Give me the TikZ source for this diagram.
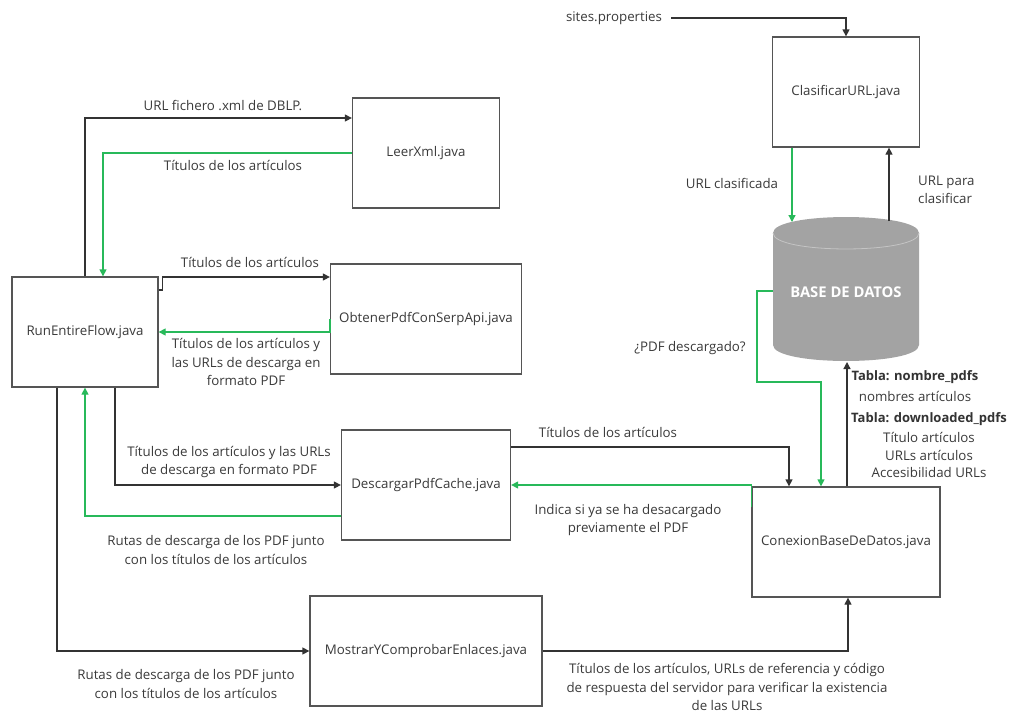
\documentclass[tikz,border=0pt]{standalone}
\usepackage{fontspec}
\setmainfont{Open Sans}
\usetikzlibrary{arrows.meta}
\definecolor{linegray}{HTML}{333333}
\definecolor{boxgray}{HTML}{555555}
\definecolor{flowgreen}{RGB}{40,185,90}
\definecolor{dbgray}{HTML}{A3A3A3}
\definecolor{dbrim}{HTML}{C4C4C4}
\definecolor{txtgray}{HTML}{3A3A3A}
\begin{document}
\begin{tikzpicture}[x=1pt,y=-1pt,
  font=\fontsize{13.3}{18.5}\selectfont,
  box/.style={draw=boxgray, line width=1.3pt, fill=white, minimum width=#1,
    minimum height=110pt, text=txtgray, inner sep=0pt},
  lbl/.style={text=txtgray, align=center, inner sep=0pt},
  tip/.style={-{Triangle[length=7pt,width=7pt]}},
  blk/.style={draw=linegray, line width=1.3pt, tip},
  grn/.style={draw=flowgreen, line width=1.3pt, tip, fill=none},
]
\useasboundingbox (0,0) rectangle (1012,715);
\fill[white] (0,0) rectangle (1012,715);

% program modules
\node[box=146pt] (run) at (85,332) {RunEntireFlow.java};
\node[box=147pt] (leer) at (426,153) {LeerXml.java};
\node[box=191pt] (obt) at (426,319) {ObtenerPdfConSerpApi.java};
\node[box=169pt] (desc) at (426,485) {DescargarPdfCache.java};
\node[box=232pt] (mostrar) at (426,651) {MostrarYComprobarEnlaces.java};
\node[box=147pt] (cls) at (846,92) {ClasificarURL.java};
\node[box=188pt] (con) at (846,542) {ConexionBaseDeDatos.java};

% database cylinder
\fill[dbgray] (773,233) -- (773,345)
  .. controls (773,366.3) and (919,366.3) .. (919,345) -- (919,233)
  .. controls (919,211.7) and (773,211.7) .. (773,233) -- cycle;
\draw[dbrim, line width=0.8pt] (773,233) .. controls (773,254.3) and (919,254.3) .. (919,233);
\node[text=white, font=\fontsize{14.8}{17}\selectfont\bfseries, inner sep=0pt] (db) at (846,292) {BASE DE DATOS};
\coordinate (dbtopA) at (792,222);
\coordinate (dbtopB) at (889,221);
\coordinate (dbleft) at (773,291);
\coordinate (dbbot) at (847,362);

% external input
\node[lbl] (sites) at (614,18) {sites.properties};

% connectors: left column
\draw[blk] (run.north) |- (leer.west |- 0,118);
\draw[grn] (leer.west) -| (run.north -| 103,0);
\draw[blk] (run.east |- 0,290) -- ++(4,0) |- (obt.west |- 0,277);
\draw[grn] (obt.west |- 0,319) -- (obt.west |- 0,332) -- (run.east |- 0,332);
\draw[blk] (run.south -| 115,0) |- (desc.west);
\draw[grn] (desc.west |- 0,516) -| (run.south -| 85,0);
\draw[blk] (run.south -| 57,0) |- (mostrar.west);

% connectors: database side
\draw[blk] (desc.east |- 0,447) -| (con.north -| 789,0);
\draw[grn] (con.west |- 0,507) -- (con.west |- 0,485) -- (desc.east);
\draw[blk] (mostrar.east) -| (con.south -| 848,0);
\draw[blk] (con.north -| 847,0) -- (dbbot);
\draw[grn] (dbleft) -| (757,382) -| (con.north -| 821,0);
\draw[grn] (cls.south -| 792,0) -- (dbtopA);
\draw[blk] (dbtopB) -- (cls.south -| 889,0);
\draw[blk] ([xshift=9pt]sites.east) -| (cls.north);

% connector labels
\node[lbl] (l1) at (223,106) {URL fichero .xml de DBLP.};
\node[lbl] (l2) at (233,165) {Títulos de los artículos};
\node[lbl] (l3) at (250,262) {Títulos de los artículos};
\node[lbl] (l4) at (246,362) {Títulos de los artículos y\\las URLs de descarga en\\formato PDF};
\node[lbl] (l5) at (229,462) {Títulos de los artículos y las URLs\\de descarga en formato PDF};
\node[lbl] (l6) at (216,550) {Rutas de descarga de los PDF junto\\con los títulos de los artículos};
\node[lbl] (l7) at (608,432) {Títulos de los artículos};
\node[lbl] (l8) at (628,520) {Indica si ya se ha desacargado\\previamente el PDF};
\node[lbl] (l9) at (186,684) {Rutas de descarga de los PDF junto\\con los títulos de los artículos};
\node[lbl] (l10) at (727,687) {Títulos de los artículos, URLs de referencia y código\\de respuesta del servidor para verificar la existencia\\de las URLs};
\node[lbl] (l11) at (732,183) {URL clasificada};
\node[lbl, align=left, anchor=west] (l12) at (918,190) {URL para\\clasificar};
\node[lbl] (l13) at (690,348) {¿PDF descargado?};
\node[lbl, text=linegray, font=\fontsize{13}{18.5}\selectfont\bfseries] (t1) at (915,377) {Tabla: nombre\_pdfs};
\node[lbl] (t2) at (915,396) {nombres artículos};
\node[lbl, text=linegray, font=\fontsize{13}{18.5}\selectfont\bfseries] (t3) at (929,419) {Tabla: downloaded\_pdfs};
\node[lbl] (t4) at (929,437) {Título artículos};
\node[lbl] (t5) at (929,455) {URLs artículos};
\node[lbl] (t6) at (929,473) {Accesibilidad URLs};
\end{tikzpicture}
\end{document}
